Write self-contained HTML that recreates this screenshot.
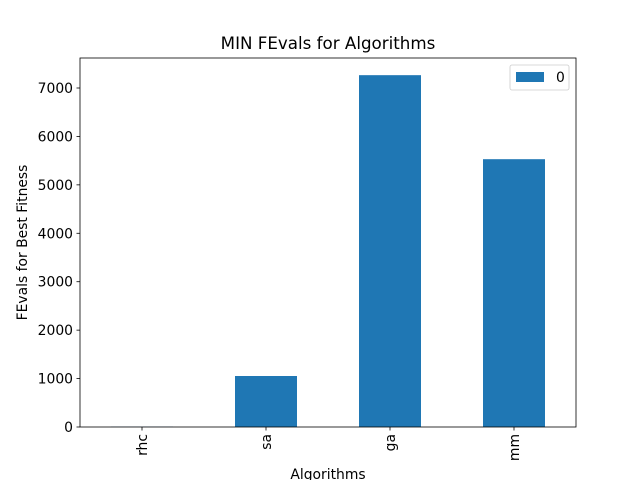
<!DOCTYPE html>
<html><head><meta charset="utf-8"><style>
body{margin:0;background:#fff;font-family:"Liberation Sans","DejaVu Sans",sans-serif}
svg text{font-family:"DejaVu Sans","Liberation Sans",sans-serif;fill:#000}
</style></head><body>
<svg id="chart" width="640" height="480" xmlns="http://www.w3.org/2000/svg">
<rect width="640" height="480" fill="#fff"/>
<g id="plot"></g>
</svg>
<script>
const categories = ["rhc","sa","ga","mm"];
const values = [5, 1053, 7265, 5530];
const yTicks = [0,1000,2000,3000,4000,5000,6000,7000];
const L=80,R=576,T=58,B=427;
const yScale=v=>B - v*(339/7000);
const xScale=i=>L + (R-L)/categories.length*(i+0.5);
const NS="http://www.w3.org/2000/svg";
const g=document.getElementById('plot');
function mk(t,a,txt){const e=document.createElementNS(NS,t);for(const k in a)e.setAttribute(k,a[k]);if(txt!==undefined)e.textContent=txt;g.appendChild(e);return e;}
const bw=(R-L)/categories.length*0.5;
categories.forEach((c,i)=>{
  const y=yScale(values[i]);
  const r=mk('rect',{x:xScale(i)-bw/2,y:y,width:bw,height:B-y,fill:'#1f77b4'});
  
  
  mk('line',{x1:xScale(i),x2:xScale(i),y1:B,y2:B+3.5,stroke:'#000','stroke-width':0.8});
  const lb=mk('text',{x:0,y:0,'font-size':13.9,'text-anchor':'end',transform:`translate(${xScale(i)+5},${B+7}) rotate(-90)`},c);
  
  
});
yTicks.forEach(v=>{
  const y=yScale(v);
  mk('line',{x1:L-3.5,x2:L,y1:y,y2:y,stroke:'#000','stroke-width':0.8});
  const lb=mk('text',{x:L-7,y:y+5,'font-size':13.9,'text-anchor':'end'},v);
  
  
});
const fr=mk('rect',{x:L,y:T,width:R-L,height:B-T,fill:'none',stroke:'#000','stroke-width':0.8});


const ti=mk('text',{x:(L+R)/2,y:T-9,'font-size':16.7,'text-anchor':'middle'},'MIN FEvals for Algorithms');


const xt=mk('text',{x:(L+R)/2,y:479,'font-size':13.9,'text-anchor':'middle'},'Algorithms');


const yt=mk('text',{x:0,y:0,'font-size':13.9,'text-anchor':'middle',transform:`translate(27,${(T+B)/2}) rotate(-90)`},'FEvals for Best Fitness');


const lg=mk('rect',{x:510,y:65,width:59,height:25,fill:'#fff',stroke:'#ccc','stroke-width':0.8,rx:2});


const ls=mk('rect',{x:516,y:72,width:28,height:10,fill:'#1f77b4'});


const lt=mk('text',{x:556,y:82,'font-size':13.9},'0');


</script>
</body></html>
